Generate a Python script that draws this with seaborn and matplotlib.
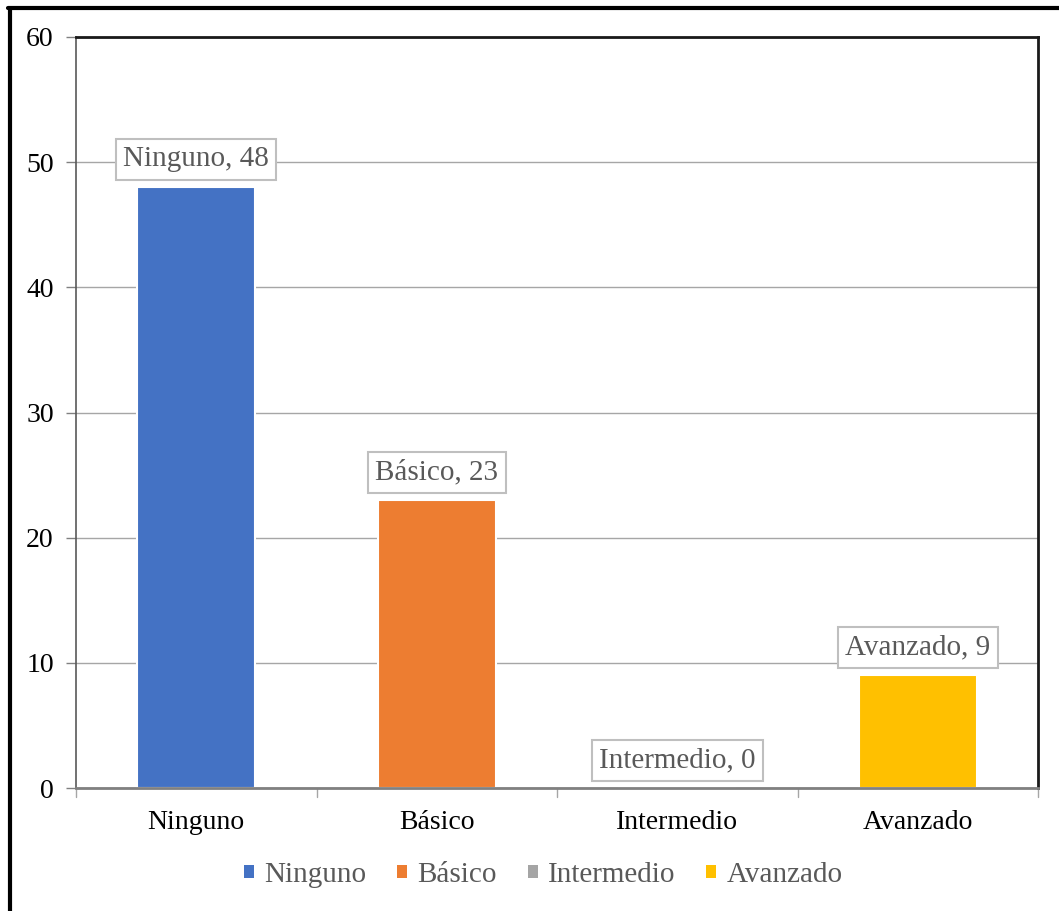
import matplotlib
matplotlib.use("Agg")
import matplotlib.pyplot as plt
from matplotlib.lines import Line2D
from matplotlib.patches import Patch
import seaborn as sns
import pandas as pd

# Nivel de conocimiento y número de personas
categorias = ["Ninguno", "Básico", "Intermedio", "Avanzado"]
valores = [48, 23, 0, 9]
colores = ["#4472C4", "#ED7D31", "#A5A5A5", "#FFC000"]
ticks_y = [0, 10, 20, 30, 40, 50, 60]

df = pd.DataFrame({"nivel": categorias, "cantidad": valores})

sns.set_theme(style="white")
plt.rcParams["font.family"] = ["Liberation Serif", "DejaVu Serif"]

fig = plt.figure(figsize=(10.59, 9.11), dpi=100)
ax = fig.add_axes([76 / 1059, 1 - 788 / 911, (1038 - 76) / 1059, (788 - 37) / 911])

sns.barplot(data=df, x="nivel", y="cantidad", hue="nivel", palette=colores,
            order=categorias, hue_order=categorias, width=0.49, dodge=False,
            saturation=1, legend=False, edgecolor="white", linewidth=1.5,
            ax=ax, zorder=3)

ax.set_ylim(0, 60)
ax.set_xlim(-0.5, 3.5)
ax.set_yticks(ticks_y)
ax.set_yticklabels([str(t) for t in ticks_y])
ax.yaxis.grid(True, color="#A6A6A6", linewidth=1.0, zorder=0)
ax.set_axisbelow(True)
ax.set_xlabel("")
ax.set_ylabel("")

for side in ["top", "right"]:
    ax.spines[side].set_color("#1a1a1a")
    ax.spines[side].set_linewidth(2.0)
ax.spines["left"].set_color("#595959")
ax.spines["left"].set_linewidth(1.2)
ax.spines["bottom"].set_color("#808080")
ax.spines["bottom"].set_linewidth(2.0)
ax.spines["bottom"].set_zorder(4)

ax.tick_params(axis="y", which="major", left=True, length=7, width=1,
               color="#808080", labelsize=20, labelcolor="black", pad=9)
ax.tick_params(axis="x", bottom=False, labelsize=20, labelcolor="black", pad=10)

# Marcas del eje x entre categorías
ax.set_xticks(range(len(categorias)))
ax.set_xticklabels(categorias)
for b in [-0.5, 0.5, 1.5, 2.5, 3.5]:
    ax.plot([b, b], [0, -0.012], transform=ax.get_xaxis_transform(),
            color="#A6A6A6", lw=1, clip_on=False)

# Etiquetas de datos con recuadro
for i, (cat, val) in enumerate(zip(categorias, valores)):
    ax.annotate(f"{cat}, {val}", xy=(i, val), xytext=(0, 20),
                textcoords="offset points", ha="center", va="center",
                fontsize=21, color="#595959", zorder=5,
                bbox=dict(boxstyle="square,pad=0.25", fc="white",
                          ec="#BFBFBF", lw=1.5))

# Leyenda inferior
handles = [Patch(facecolor=c, edgecolor="none") for c in colores]
fig.legend(handles, categorias, loc="center", bbox_to_anchor=(0.513, 1 - 875 / 911),
           ncol=4, frameon=False, fontsize=21, labelcolor="#595959",
           handlelength=0.35, handleheight=0.35, handletextpad=0.35,
           columnspacing=1.05)

# Borde exterior (izquierdo y superior)
fig.add_artist(Line2D([9.5 / 1059, 9.5 / 1059], [0, 1 - 8 / 911],
                      transform=fig.transFigure, color="black", lw=3))
fig.add_artist(Line2D([8 / 1059, 1], [1 - 8 / 911, 1 - 8 / 911],
                      transform=fig.transFigure, color="black", lw=3))

fig.savefig("out.png", dpi=100, facecolor="white")
